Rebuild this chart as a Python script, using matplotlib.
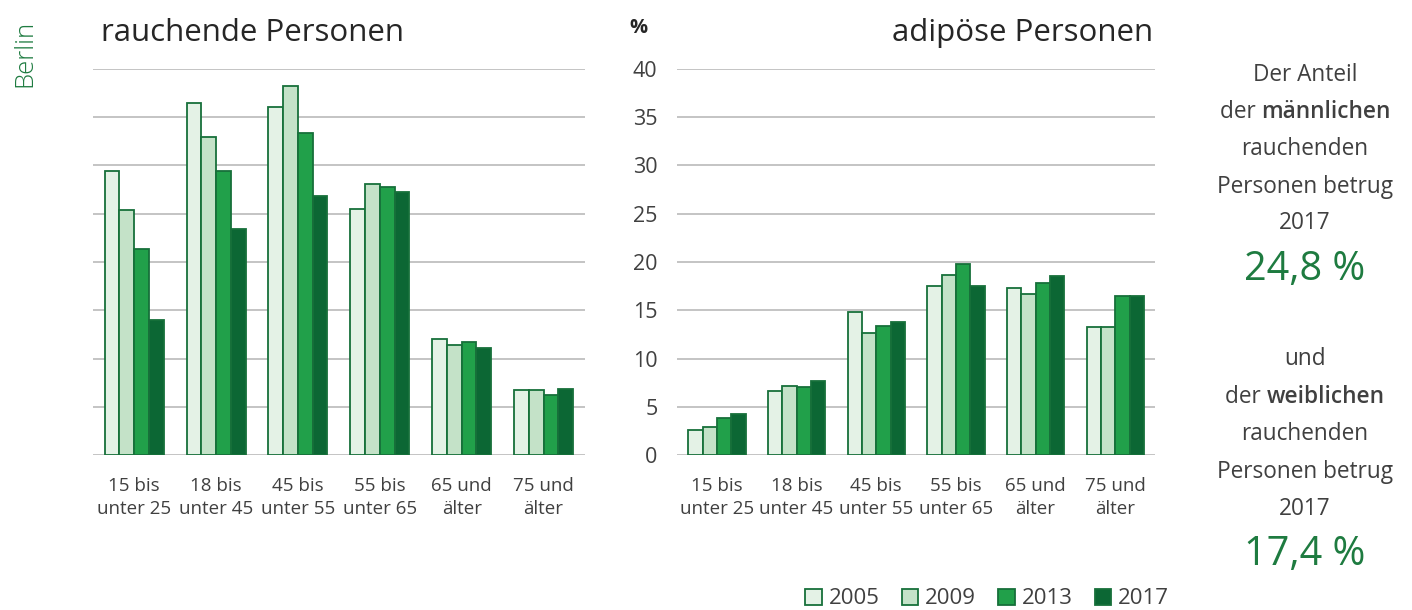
import matplotlib.pyplot as plt
import numpy as np
from matplotlib.offsetbox import TextArea, HPacker, AnnotationBbox
from matplotlib.patches import Patch

plt.rcParams['font.family'] = ['Open Sans', 'DejaVu Sans']

# Altersgruppen
gruppen = ['15 bis\nunter 25', '18 bis\nunter 45', '45 bis\nunter 55',
           '55 bis\nunter 65', '65 und\nälter', '75 und\nälter']
jahre = ['2005', '2009', '2013', '2017']

# rauchende Personen, %
rauchend = {
    '2005': [29.4, 36.5, 36.1, 25.5, 12.0, 6.7],
    '2009': [25.4, 33.0, 38.2, 28.1, 11.4, 6.7],
    '2013': [21.3, 29.4, 33.4, 27.8, 11.7, 6.2],
    '2017': [14.0, 23.4, 26.8, 27.2, 11.1, 6.8],
}
# adipöse Personen, %
adipoes = {
    '2005': [2.6, 6.6, 14.8, 17.5, 17.3, 13.3],
    '2009': [2.9, 7.2, 12.6, 18.7, 16.7, 13.3],
    '2013': [3.8, 7.1, 13.4, 19.8, 17.8, 16.5],
    '2017': [4.3, 7.7, 13.8, 17.5, 18.5, 16.5],
}

farben = ['#E4F2E6', '#C4E2C8', '#21A04A', '#0C6734']
kante = '#17703A'
grau = '#404040'
gruen = '#1E7B40'

fig = plt.figure(figsize=(14.12, 6.10), dpi=100)
ax1 = fig.add_axes([0.066, 0.254, 0.348, 0.633])
ax2 = fig.add_axes([0.4795, 0.254, 0.3385, 0.633])

x = np.arange(len(gruppen))
b = 0.18


def balken(ax, daten):
    for i, j in enumerate(jahre):
        ax.bar(x + (i - 1.5) * b, daten[j], width=b, color=farben[i],
               edgecolor=kante, linewidth=1.3, zorder=3)
    ax.set_xlim(-0.5, 5.5)
    ax.set_ylim(0, 40)
    ax.set_yticks(np.arange(0, 41, 5))
    ax.yaxis.grid(True, color='#BFBFBF', linewidth=1.3, zorder=0)
    for s in ax.spines.values():
        s.set_visible(False)
    ax.set_xticks(x)
    ax.set_xticklabels(gruppen, fontsize=13.5, color=grau, linespacing=1.35)
    ax.tick_params(axis='x', length=0, pad=16)
    ax.tick_params(axis='y', length=0, pad=14)


balken(ax1, rauchend)
balken(ax2, adipoes)
ax1.set_yticklabels([])
ax2.tick_params(axis='y', labelsize=15.5, labelcolor=grau)

ax1.text(0.015, 1.093, 'rauchende Personen', transform=ax1.transAxes,
         fontsize=22.5, color='#262626', va='center', ha='left')
ax2.text(0.995, 1.093, 'adipöse Personen', transform=ax2.transAxes,
         fontsize=22.5, color='#262626', va='center', ha='right')
fig.text(638 / 1412, 1 - 28 / 610, '%', fontsize=14.5, fontweight='bold',
         color='#262626', ha='center', va='center')
fig.text(25 / 1412, 1 - 53 / 610, 'Berlin', fontsize=18.5, color=gruen,
         rotation=90, ha='center', va='center', fontweight='light')

# Textblock rechts
cx = 1305 / 1412


def zeile(y, teile, size=16.3, color=grau):
    boxes = [TextArea(t, textprops=dict(fontsize=size, color=color,
                                        fontweight=w)) for t, w in teile]
    pack = HPacker(children=boxes, pad=0, sep=0, align='baseline')
    ab = AnnotationBbox(pack, (cx, 1 - y / 610), xycoords='figure fraction',
                        frameon=False, box_alignment=(0.5, 0.5), pad=0)
    fig.add_artist(ab)


zeile(75, [('Der Anteil', 'normal')])
zeile(112, [('der ', 'normal'), ('männlichen', 'semibold')])
zeile(149, [('rauchenden', 'normal')])
zeile(187, [('Personen betrug', 'normal')])
zeile(223, [('2017', 'normal')])
zeile(270, [('24,8 %', 'normal')], size=28.5, color=gruen)
zeile(359, [('und', 'normal')])
zeile(397, [('der ', 'normal'), ('weiblichen', 'semibold')])
zeile(434, [('rauchenden', 'normal')])
zeile(472, [('Personen betrug', 'normal')])
zeile(509, [('2017', 'normal')])
zeile(555, [('17,4 %', 'normal')], size=28.5, color=gruen)

handles = [Patch(facecolor=farben[i], edgecolor=kante, linewidth=1.3)
           for i in range(4)]
fig.legend(handles, jahre, loc='center', bbox_to_anchor=(987 / 1412, 1 - 599 / 610),
           ncol=4, frameon=False, fontsize=16, handlelength=0.75, handleheight=0.75,
           handletextpad=0.3, columnspacing=1.0, labelcolor=grau)

fig.savefig('out.png', dpi=100)
